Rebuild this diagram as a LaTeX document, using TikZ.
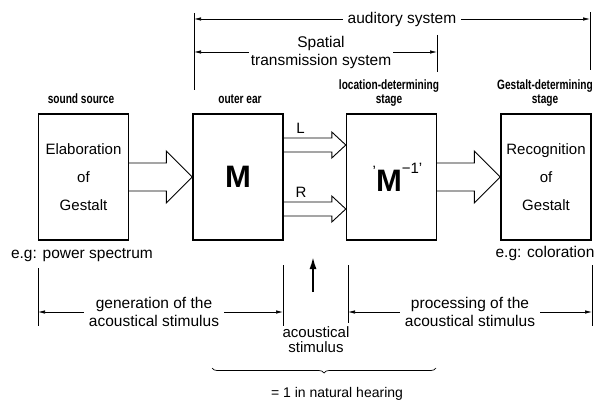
\documentclass[tikz,border=0pt]{standalone}
\usepackage{fontspec}
\setmainfont{Liberation Sans}
\newfontfamily\stagefont[FakeStretch=0.75]{Liberation Sans}
\usetikzlibrary{arrows.meta, calc, decorations.pathreplacing, positioning}

\newcommand\hollowarrow[5]{%
  \draw[blockarrow] ($(#1)+(0,-#3)$) -- ($(#2)+(-#5,-#3)$) -- ($(#2)+(-#5,-#4)$)
    -- (#2) -- ($(#2)+(-#5,#4)$) -- ($(#2)+(-#5,#3)$) -- ($(#1)+(0,#3)$);}

\begin{document}
\begin{tikzpicture}[x=1pt, y=-1pt,
  box/.style={draw, line width=1.4pt, minimum width=90pt, minimum height=126pt, inner sep=0pt},
  boxtext/.style={align=center, font=\fontsize{15}{28}\selectfont},
  stagelabel/.style={align=center, inner sep=0pt, font=\stagefont\bfseries\fontsize{13.5}{13.5}\selectfont},
  dimtext/.style={align=center, inner sep=5pt, font=\fontsize{15.5}{18}\selectfont},
  dimline/.style={line width=0.7pt, -{Latex[length=7pt,width=3.5pt]}},
  dimtick/.style={line width=0.9pt},
  blockarrow/.style={line width=0.9pt, line join=miter}]

\useasboundingbox (0,0) rectangle (597,409);

\def\boxy{177}

\node[box, boxtext] (source) at (83.5,\boxy) {Elaboration\\of\\Gestalt};
\node[box, font=\bfseries\fontsize{31}{31}\selectfont] (ear) at (238,\boxy) {M};
\node[box] (loc) at (391.5,\boxy) {\hspace*{12pt}\raisebox{15pt}{\fontsize{15}{15}\selectfont ’}{\fontsize{31}{31}\selectfont\bfseries M}\raisebox{18pt}{\fontsize{15}{15}\selectfont −1’}};
\node[box, boxtext] (gestalt) at (546,\boxy) {Recognition\\of\\Gestalt};

\node[stagelabel] (sourcelabel) at (81,99) {sound source};
\node[stagelabel] (earlabel) at (240,99) {outer ear};
\node[stagelabel] (loclabel) at (389,93) {location-determining\\stage};
\node[stagelabel] (gestaltlabel) at (545,93) {Gestalt-determining\\stage};

\hollowarrow{source.east}{ear.west}{14}{26}{26}
\hollowarrow{loc.east}{gestalt.west}{14}{26}{26}

\coordinate (Lout) at ($(ear.east)+(0,-32)$);
\coordinate (Lin) at (Lout -| loc.west);
\coordinate (Rout) at ($(ear.east)+(0,32)$);
\coordinate (Rin) at (Rout -| loc.west);
\hollowarrow{Lout}{Lin}{7}{13}{14}
\hollowarrow{Rout}{Rin}{7}{13}{14}
\node[font=\fontsize{15}{15}\selectfont] (lefttext) at (300.5,128) {L};
\node[font=\fontsize{15}{15}\selectfont] (righttext) at (301,192) {R};

\node[font=\fontsize{15.5}{18}\selectfont] (spectrum) at (82,255) {e.g: power spectrum};
\node[font=\fontsize{15.5}{18}\selectfont] (coloration) at (545,253) {e.g: coloration};

\draw[dimtick] (194,13) -- (194,90);
\draw[dimtick] (590,12) -- (590,70);
\draw[dimtick] (437,35) -- (437,72);

\node[dimtext] (auditory) at (402,19) {auditory system};
\coordinate (audL) at (194,19);
\coordinate (audR) at (590,19);
\draw[dimline] (auditory) -- (audL);
\draw[dimline] (auditory) -- (audR);

\node[dimtext, inner xsep=2pt] (spatial) at (321,52) {Spatial\\transmission system};
\coordinate (spL) at (spatial -| audL);
\coordinate (spR) at (437,52);
\draw[dimline] (spatial) -- (spL);
\draw[dimline] (spatial) -- (spR);

\draw[dimtick] (38,268) -- (38,326);
\draw[dimtick] (283,265) -- (283,326);
\draw[dimtick] (348,265) -- (348,323);
\draw[dimtick] (592,265) -- (592,326);

\node[dimtext] (generation) at (154,312) {generation of the\\acoustical stimulus};
\coordinate (genL) at (38,312);
\coordinate (genR) at (283,312);
\draw[dimline] (generation) -- (genL);
\draw[dimline] (generation) -- (genR);

\node[dimtext] (processing) at (470,312) {processing of the\\acoustical stimulus};
\coordinate (procL) at (348,312);
\coordinate (procR) at (592,312);
\draw[dimline] (processing) -- (procL);
\draw[dimline] (processing) -- (procR);

\coordinate (stimtail) at (313,292);
\coordinate (stimtip) at (313,257);
\draw[line width=1.8pt, -{Latex[length=12pt,width=7pt]}] (stimtail) -- (stimtip);
\node[align=center, font=\fontsize{15}{15}\selectfont] (stimulus) at (316,340) {acoustical\\stimulus};

\coordinate (braceL) at (212,368);
\coordinate (braceR) at (436,368);
\draw[line width=0.7pt, decorate, decoration={brace, mirror, amplitude=5pt}] (braceL) -- (braceR);
\node[font=\fontsize{14}{14}\selectfont] (natural) at (337,394) {= 1 in natural hearing};

\end{tikzpicture}
\end{document}
